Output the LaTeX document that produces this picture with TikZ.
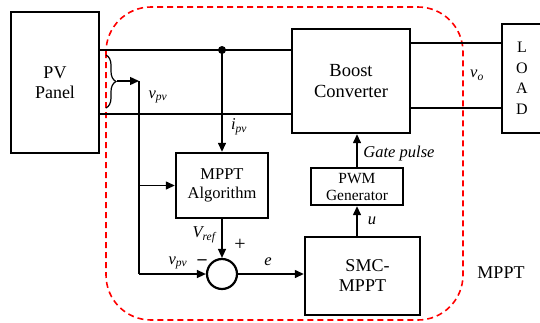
\documentclass[tikz,border=0pt]{standalone}
\usepackage{fontspec}
\setmainfont{Liberation Serif}
\usetikzlibrary{arrows.meta, positioning, decorations.pathreplacing}
\newcommand{\sig}[2]{\textit{#1}\textsubscript{\textit{#2}}}
\tikzset{
  block/.style={
    draw,
    rectangle,
    line width=2.4pt,
    align=center,
    inner sep=0pt,
    font=\fontsize{16.5}{19}\selectfont,
  },
  sumnode/.style={
    draw,
    circle,
    line width=2.2pt,
    minimum size=30pt,
    inner sep=0pt
  },
  wire/.style={
    line width=1.4pt
  },
  arrow/.style={
    wire,
    -{Triangle[length=9pt,width=8pt]}
  },
  lbl/.style={
    font=\fontsize{16.5}{18}\selectfont\itshape,
    inner sep=1pt
  },
  zone/.style={
    draw=red,
    line width=1.6pt,
    dash pattern=on 6pt off 4pt,
    rounded corners=45pt
  }
}

\begin{document}
\begin{tikzpicture}[x=1pt, y=-1pt]
  \useasboundingbox (0,0) rectangle (540,322);

  % blocks
  \node[block, minimum width=88pt, minimum height=141pt, font=\fontsize{18}{20}\selectfont] (pv) at (55,82.5) {PV\\Panel};
  \node[block, minimum width=118pt, minimum height=104pt, font=\fontsize{18.5}{21}\selectfont] (boost) at (351,81) {Boost\\Converter};
  \node[block, minimum width=43pt, minimum height=109pt, font=\fontsize{16}{20.5}\selectfont] (load) at (523.5,78.5) {\hspace*{-3pt}L\\\hspace*{-3pt}O\\\hspace*{-3pt}A\\\hspace*{-3pt}D};
  \node[block, minimum width=92pt, minimum height=65pt] (mppt) at (222,185.5) {MPPT\\Algorithm};
  \node[block, minimum width=92pt, minimum height=37pt, font=\fontsize{15.5}{17}\selectfont] (pwm) at (357,186.5) {PWM\\Generator};
  \node[block, minimum width=115pt, minimum height=78pt, font=\fontsize{18}{20}\selectfont] (smc) at (362.5,276) {\hspace*{10pt}SMC-\\MPPT};
  \node[sumnode] (sum) at (222,274) {};
  \fill (222,50) circle (4pt) coordinate (dot);

  % MPPT zone
  \draw[zone] (106,7) rectangle (463,320);
  \node[font=\fontsize{18}{18}\selectfont] (zonelbl) at (501,273) {MPPT};

  % power wires
  \draw[wire] (pv.east |- dot) -- (dot) -- (boost.west |- dot);
  \draw[wire] (pv.east |- 0,114) -- (boost.west |- 0,114);
  \draw[wire] (boost.east |- 0,43) -- (load.west |- 0,43);
  \draw[wire] (boost.east |- 0,108) -- (load.west |- 0,108);

  % voltage sensing
  \draw[decorate, decoration={brace, amplitude=10pt}, line width=1.2pt] (106,55) -- (106,108);
  \coordinate (tip) at (117,81);
  \coordinate (tap) at (139,81);
  \draw[arrow] (tip) -- (tap);
  \draw[wire] (tap) -- (tap |- sum);
  \draw[arrow] (tap |- sum) -- (sum.west);
  \draw[arrow] (tap |- mppt) -- (mppt.west);

  % control loop
  \draw[arrow] (dot) -- (mppt.north);
  \draw[arrow] (mppt.south) -- (sum.north);
  \draw[arrow] (sum.east) -- (smc.west |- sum);
  \draw[arrow] (smc.north -| pwm) -- (pwm.south);
  \draw[arrow] (pwm.north) -- (pwm.north |- boost.south);

  % labels
  \node[lbl] (vpv1) at (158,97) {\sig{v}{pv}};
  \node[lbl] (ipv) at (239,127) {\sig{i}{pv}};
  \node[lbl] (vo) at (477,75) {\sig{v}{o}};
  \node[lbl] (gate) at (399,154) {Gate pulse};
  \node[lbl] (u) at (372,221) {u};
  \node[lbl] (vref) at (204,235) {\sig{V}{ref}};
  \node[lbl] (vpv2) at (178,263) {\sig{v}{pv}};
  \node[lbl] (e) at (268,262) {e};
  \node[font=\fontsize{20}{20}\selectfont] (plus) at (240,245) {+};
  \node[font=\fontsize{18}{18}\selectfont\bfseries] (minus) at (202,262) {--};
\end{tikzpicture}
\end{document}
